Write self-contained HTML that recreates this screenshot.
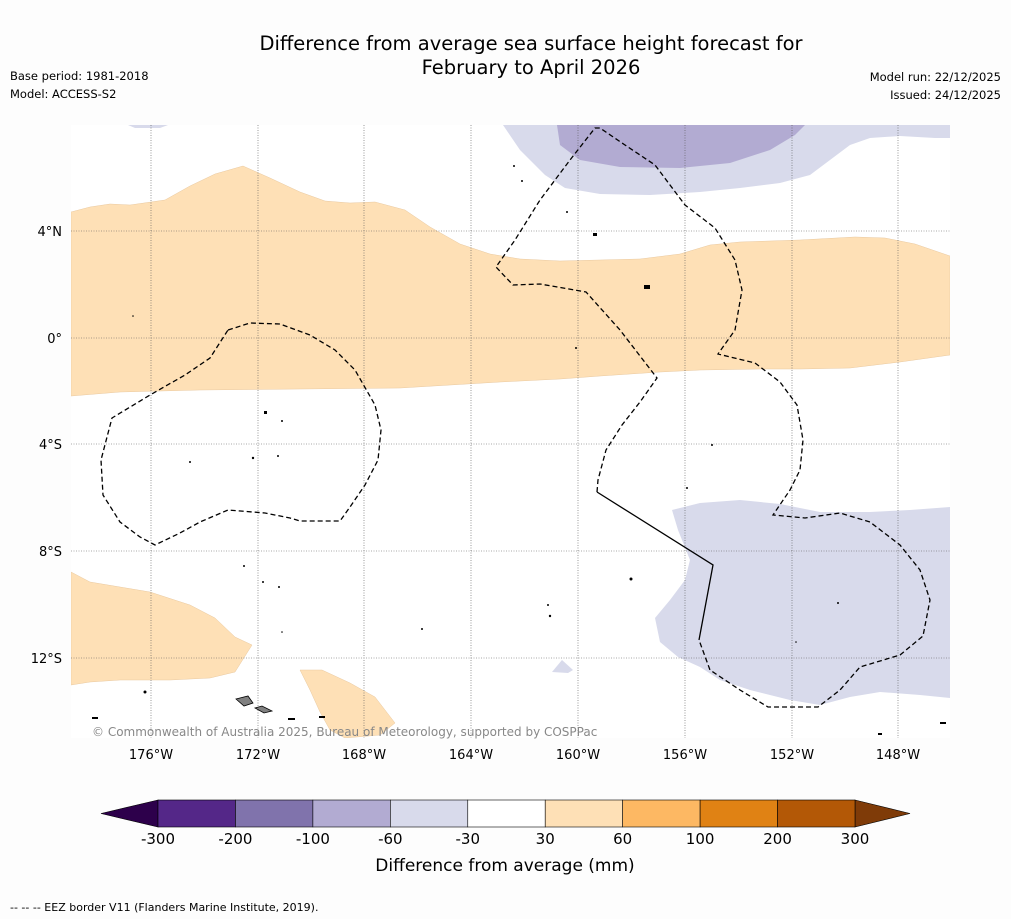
<!DOCTYPE html>
<html><head><meta charset="utf-8"><style>
body{margin:0;background:#fdfdfd;width:1011px;height:919px;overflow:hidden;font-family:"Liberation Sans",sans-serif}
svg{display:block}
</style></head><body>
<svg width="1011" height="919" font-family="DejaVu Sans, Liberation Sans, sans-serif">
<rect width="1011" height="919" fill="#fdfdfd"/>
<text x="531" y="50" text-anchor="middle" font-size="19.5" fill="#000">Difference from average sea surface height forecast for</text>
<text x="531" y="74" text-anchor="middle" font-size="19.5" fill="#000">February to April 2026</text>
<text x="10" y="80" font-size="11.5">Base period: 1981-2018</text>
<text x="10" y="98" font-size="11.5">Model: ACCESS-S2</text>
<text x="1001" y="81" font-size="11.5" text-anchor="end">Model run: 22/12/2025</text>
<text x="1001" y="99" font-size="11.5" text-anchor="end">Issued: 24/12/2025</text>

<g>
<clipPath id="mc"><rect x="71" y="125" width="879" height="613"/></clipPath>
<g clip-path="url(#mc)">
<rect x="71" y="125" width="879" height="613" fill="#fff"/>
<polygon fill="#fee0b6" stroke="#e9c9a0" stroke-width="0.5" points="71,212 90,207 110,204 130,205 165,200 190,186 215,174 243,166 270,178 300,192 325,201 350,203 375,202 405,210 430,227 460,244 490,254 520,259 560,261 600,260 640,259 680,254 710,245 740,242 800,240 855,237 885,238 915,244 950,256 950,355 900,362 850,368 800,369 760,369 700,370 660,372 600,376 560,379 500,382 450,385 400,388 300,389 200,390 120,392 71,396"/>
<polygon fill="#d8daeb" points="503,125 520,150 545,175 565,188 600,194 650,195 700,192 740,188 780,183 810,175 830,160 850,145 870,138 900,136 935,138 950,138 950,125"/>
<polygon fill="#b2abd2" points="557,125 560,145 580,160 620,167 680,168 730,163 770,150 795,135 805,125"/>
<polygon fill="#d8daeb" points="128,125 168,125 160,128 135,128"/>
<polygon fill="#d8daeb" points="672,510 700,503 740,500 780,504 820,512 870,512 910,510 950,507 950,698 920,695 880,692 850,697 820,705 790,700 750,690 720,680 700,667 678,657 660,642 655,618 670,600 685,580 690,560 678,530"/>
<polygon fill="#d8daeb" points="552,672 562,660 573,670 568,673"/>
<polygon fill="#fee0b6" stroke="#e9c9a0" stroke-width="0.5" points="71,572 90,582 120,587 150,592 190,605 215,618 235,637 252,645 235,672 210,678 170,680 120,680 90,682 71,685"/>
<polygon fill="#fee0b6" stroke="#e9c9a0" stroke-width="0.5" points="300,670 322,670 350,683 375,697 395,723 380,735 345,738 330,730 320,712 310,690"/>
<g stroke="#555" stroke-width="0.6" stroke-dasharray="1,1.5">
<line x1="151" y1="125" x2="151" y2="738"/><line x1="258" y1="125" x2="258" y2="738"/><line x1="364" y1="125" x2="364" y2="738"/><line x1="471" y1="125" x2="471" y2="738"/><line x1="578" y1="125" x2="578" y2="738"/><line x1="685" y1="125" x2="685" y2="738"/><line x1="792" y1="125" x2="792" y2="738"/><line x1="898" y1="125" x2="898" y2="738"/>
<line x1="71" y1="231" x2="950" y2="231"/><line x1="71" y1="338" x2="950" y2="338"/><line x1="71" y1="444" x2="950" y2="444"/><line x1="71" y1="551" x2="950" y2="551"/><line x1="71" y1="658" x2="950" y2="658"/>
</g>
<g fill="none" stroke="#000" stroke-width="1.3">
<polyline stroke-dasharray="5,3" points="597,492 598,480 606,450 622,425 640,402 657,378 620,330 586,292 540,284 513,285 496,267 515,240 540,200 570,160 595,128 600,128 625,145 655,165 670,185 685,205 715,228 735,260 742,290 735,330 718,354 755,363 780,382 797,405 803,440 800,470 790,490 773,515 805,518 840,513 870,522 900,545 920,570 930,600 923,636 900,655 860,667 840,690 818,707 768,707 740,690 710,670 699,640"/>
<polyline points="597,492 713,565 699,640"/>
<polygon stroke-dasharray="5,3" points="228,330 250,323 280,324 310,335 335,350 355,370 375,405 381,430 378,460 365,485 350,507 340,521 300,521 290,518 265,513 228,510 200,522 180,533 155,545 140,537 120,522 103,495 101,460 112,418 150,395 185,375 210,358"/>
</g>
<g fill="#000">
<circle cx="514" cy="166" r="1"/><circle cx="522" cy="181" r="1"/><circle cx="567" cy="212" r="1"/><rect x="593" y="233" width="4" height="3"/><rect x="644" y="285" width="6" height="4"/><circle cx="133" cy="316" r="0.8"/><circle cx="576" cy="348" r="1"/>
<rect x="264" y="411" width="3" height="3"/><circle cx="282" cy="421" r="1"/><circle cx="190" cy="462" r="1"/><circle cx="253" cy="458" r="1.2"/><circle cx="278" cy="456" r="1"/><circle cx="712" cy="445" r="1"/><circle cx="687" cy="488" r="1"/>
<circle cx="244" cy="566" r="1"/><circle cx="263" cy="582" r="1"/><circle cx="279" cy="587" r="1"/><circle cx="631" cy="579" r="1.5"/><circle cx="548" cy="605" r="1"/><circle cx="550" cy="616" r="1.2"/><circle cx="838" cy="603" r="1"/><circle cx="422" cy="629" r="1"/><circle cx="282" cy="632" r="0.8"/><circle cx="796" cy="642" r="0.8"/>
<circle cx="145" cy="692" r="1.5"/><rect x="92" y="717" width="6" height="2"/><rect x="288" y="718" width="7" height="2"/><rect x="319" y="716" width="6" height="2"/><rect x="878" y="733" width="4" height="2"/><rect x="940" y="722" width="6" height="2"/>
<polygon fill="#808080" stroke="#000" stroke-width="0.8" points="236,699 248,696 253,703 244,706"/>
<polygon fill="#808080" stroke="#000" stroke-width="0.8" points="255,708 262,706 272,711 264,713"/>
</g>
</g>
<text x="92" y="736" font-size="12" fill="#888">© Commonwealth of Australia 2025, Bureau of Meteorology, supported by COSPPac</text>
</g>
<g font-size="13" text-anchor="middle">
<text x="151" y="759">176°W</text><text x="258" y="759">172°W</text><text x="364" y="759">168°W</text><text x="471" y="759">164°W</text><text x="578" y="759">160°W</text><text x="685" y="759">156°W</text><text x="792" y="759">152°W</text><text x="898" y="759">148°W</text>
</g>
<g font-size="13" text-anchor="end">
<text x="62" y="236">4°N</text><text x="62" y="343">0°</text><text x="62" y="449">4°S</text><text x="62" y="556">8°S</text><text x="62" y="663">12°S</text>
</g>
<g id="cbar"></g>
<text x="505" y="871" text-anchor="middle" font-size="17">Difference from average (mm)</text>
<text x="10" y="911" font-size="11">-- -- -- EEZ border V11 (Flanders Marine Institute, 2019).</text>
</svg>
<script>
const cbLevels = ["-300","-200","-100","-60","-30","30","60","100","200","300"];
const cbColors = ["#542788","#8073ac","#b2abd2","#d8daeb","#ffffff","#fee0b6","#fdb863","#e08214","#b35806"];
const cbExtend = ["#2d004b","#7f3b08"];
const NS="http://www.w3.org/2000/svg";
const g=document.getElementById('cbar');
const x0=158,x1=855,y0=800,h=27;
const w=(x1-x0)/cbColors.length;
function cx(i){return x0+i*w;}
const lt=document.createElementNS(NS,'polygon');
lt.setAttribute('points',`${x0},${y0} 101,${y0+h/2} ${x0},${y0+h}`);lt.setAttribute('fill',cbExtend[0]);lt.setAttribute('stroke','#000');lt.setAttribute('stroke-width','0.6');


g.appendChild(lt);
const rt=document.createElementNS(NS,'polygon');
rt.setAttribute('points',`${x1},${y0} 910,${y0+h/2} ${x1},${y0+h}`);rt.setAttribute('fill',cbExtend[1]);rt.setAttribute('stroke','#000');rt.setAttribute('stroke-width','0.6');


g.appendChild(rt);
cbColors.forEach((c,i)=>{
  const r=document.createElementNS(NS,'rect');
  r.setAttribute('x',cx(i));r.setAttribute('y',y0);r.setAttribute('width',w);r.setAttribute('height',h);
  r.setAttribute('fill',c);r.setAttribute('stroke','#000');r.setAttribute('stroke-width','0.6');
  
  
  g.appendChild(r);
});
cbLevels.forEach((l,i)=>{
  const t=document.createElementNS(NS,'text');
  t.setAttribute('x',cx(i));t.setAttribute('y',844);t.setAttribute('text-anchor','middle');t.setAttribute('font-size','15');
  t.textContent=l;
  
  
  g.appendChild(t);
});
</script>
</body></html>
